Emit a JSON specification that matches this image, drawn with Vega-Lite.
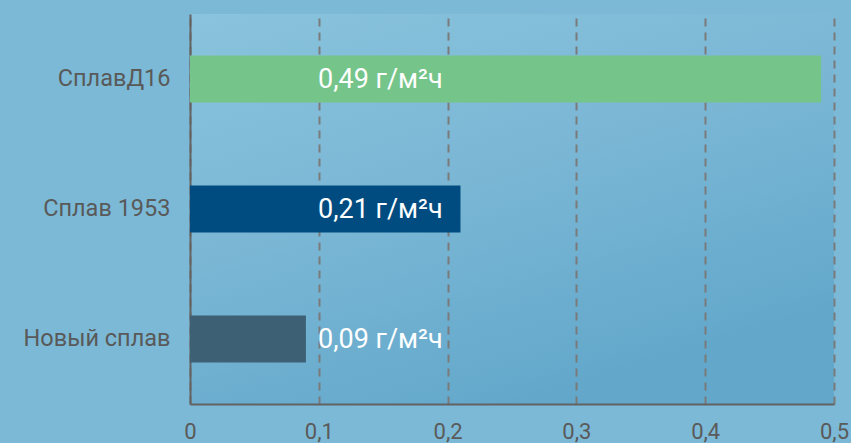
{
  "$schema": "https://vega.github.io/schema/vega-lite/v6.json",
  "width": 644,
  "height": 390,
  "autosize": {"type": "none"},
  "padding": {"left": 190, "top": 14, "right": 17, "bottom": 39},
  "background": "#7cb9d6",
  "config": {
    "view": {
      "stroke": null,
      "fill": {"gradient": "linear", "x1": 0, "y1": 0, "x2": 0.5, "y2": 1, "stops": [{"offset": 0, "color": "#89c3dd"}, {"offset": 0.5, "color": "#7bb7d5"}, {"offset": 1, "color": "#63a8cb"}]}
    },
    "font": "Roboto"
  },
  "data": {
    "values": [
      {"alloy": "СплавД16", "rate": 0.49, "label": "0,49 г/м²ч", "color": "#75c48a"},
      {"alloy": "Сплав 1953", "rate": 0.21, "label": "0,21 г/м²ч", "color": "#004c80"},
      {"alloy": "Новый сплав", "rate": 0.09, "label": "0,09 г/м²ч", "color": "#3d6074"}
    ]
  },
  "encoding": {
    "y": {
      "field": "alloy",
      "type": "nominal",
      "sort": null,
      "scale": {"paddingInner": 0.64, "paddingOuter": 0.32},
      "axis": {
        "title": null,
        "ticks": false,
        "domainColor": "#626262",
        "domainWidth": 2,
        "labelColor": "#595959",
        "labelFontSize": 23.5,
        "labelFontWeight": "normal",
        "labelPadding": 20,
        "labelFont": "Roboto"
      }
    }
  },
  "layer": [
    {
      "mark": {"type": "bar"},
      "encoding": {
        "x": {
          "field": "rate",
          "type": "quantitative",
          "scale": {"domain": [0, 0.5], "nice": false},
          "axis": {
            "title": null,
            "values": [0, 0.1, 0.2, 0.3, 0.4, 0.5],
            "labelExpr": "replace(format(datum.value, '.1~f'), '.', ',')",
            "ticks": false,
            "domainColor": "#626262",
            "domainWidth": 2,
            "grid": true,
            "gridColor": "#7a7a7a",
            "gridWidth": 2,
            "gridDash": [8, 6],
            "labelColor": "#5a5a5a",
            "labelFontSize": 22,
            "labelPadding": 17,
            "labelFlush": false,
            "labelFont": "Roboto"
          }
        },
        "color": {"field": "color", "type": "nominal", "scale": null, "legend": null}
      }
    },
    {
      "mark": {"type": "text", "align": "left", "baseline": "middle", "color": "white", "fontSize": 27, "font": "Roboto", "dy": 1},
      "encoding": {
        "x": {"datum": 0.0994},
        "text": {"field": "label"}
      }
    }
  ]
}
